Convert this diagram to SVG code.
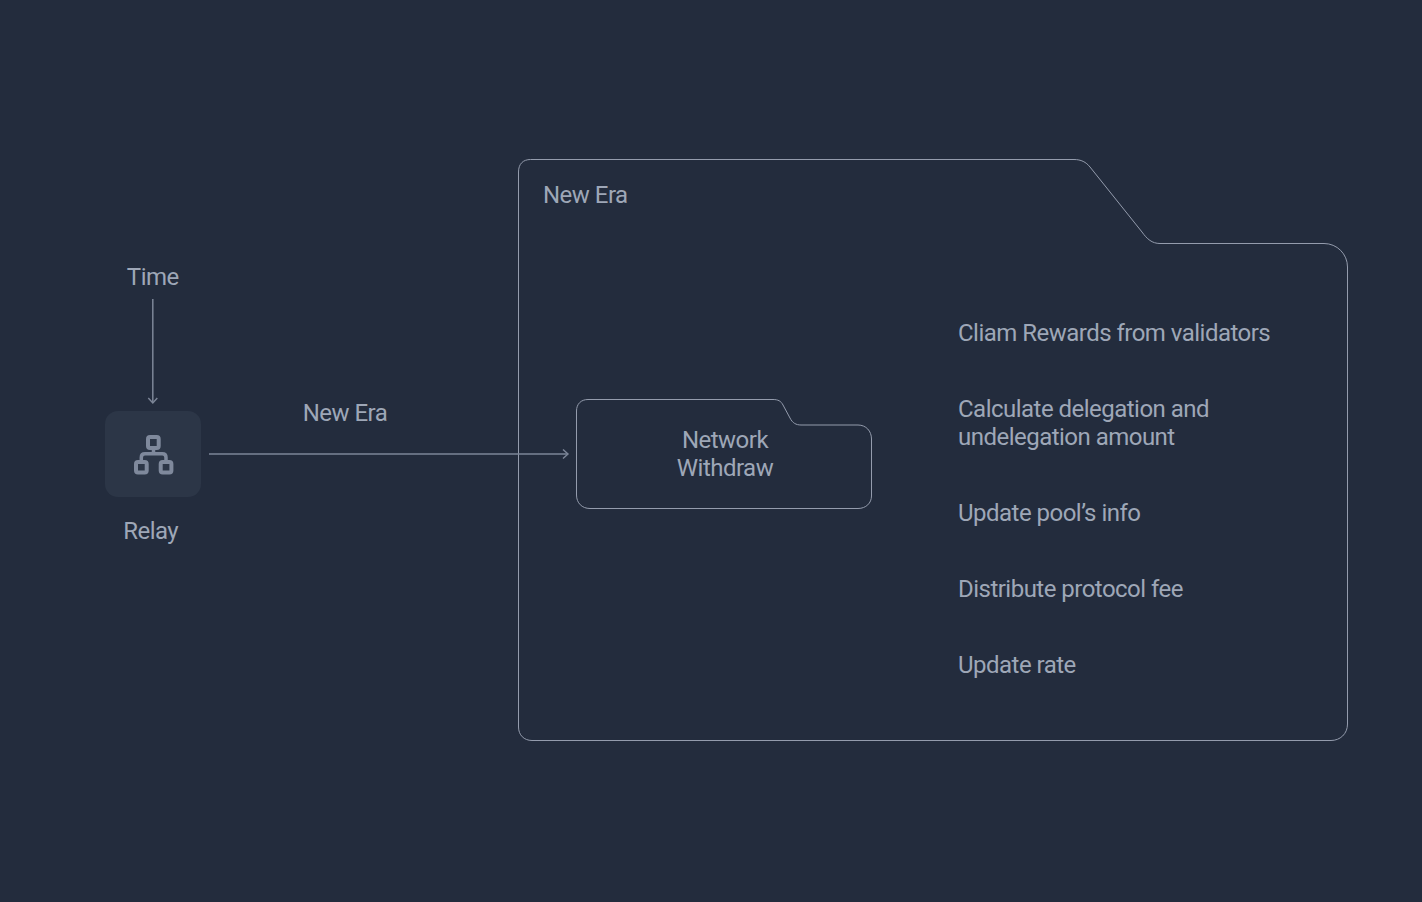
<svg xmlns="http://www.w3.org/2000/svg" width="1422" height="902" viewBox="0 0 1422 902">
<style>
text{font-family:Roboto,"Liberation Sans",sans-serif;font-size:24px;fill:#9ea7b7;letter-spacing:-0.52px}
.c{text-anchor:middle}
.f{fill:none;stroke:#949cad;stroke-width:1}
.w{fill:none;stroke:#7d8698;stroke-width:1.5}
</style>
<defs><marker id="a" markerWidth="12" markerHeight="12" refX="8" refY="5" orient="auto" markerUnits="userSpaceOnUse"><path d="M3 0.5L8 5L3 9.500" fill="none" stroke="#7d8698" stroke-width="1.4"/></marker></defs>
<rect width="1422" height="902" fill="#232c3d"/>
<g id="folder-new-era">
<path class="f" d="M530.500 159.500H1074C1081 159.500 1086 162 1090 167L1142 232C1147 239 1152 243.500 1160 243.500H1324C1337 243.500 1347.500 254 1347.500 267V724C1347.500 734 1340 740.500 1331 740.500H532C524 740.500 518.500 735 518.500 727V172C518.500 164 523 159.500 530.500 159.500Z"/>
<text x="543" y="203">New Era</text>
</g>
<g id="folder-network-withdraw">
<path class="f" d="M588 399.500H773C778 399.500 781 401 783 405L790 418C792.500 423 796 425 801 425H858C866 425 871.500 431 871.500 439V496C871.500 503 866 508.500 858 508.500H590C582 508.500 576.500 503 576.500 495V411C576.500 404 581 399.500 588 399.500Z"/>
<text class="c" x="725" y="448">Network</text>
<text class="c" x="725" y="476">Withdraw</text>
</g>
<g id="relay">
<rect x="105" y="411" width="96" height="86" rx="13" fill="#2c3647"/>
<g fill="none" stroke="#7f899c" stroke-width="4">
<rect x="148" y="437" width="10.700" height="11" rx="2"/>
<rect x="136" y="462" width="10.700" height="10.500" rx="2"/>
<rect x="160.700" y="462" width="10.700" height="10.500" rx="2"/>
</g>
<path d="M153.500 449V454M141.300 461V457.500Q141.300 453.800 145 453.800H162.300Q166 453.800 166 457.500V461" fill="none" stroke="#7f899c" stroke-width="3.500"/>
<text class="c" x="150.700" y="539">Relay</text>
</g>
<g id="label-time"><text class="c" x="152.800" y="285">Time</text></g>
<g id="label-new-era"><text class="c" x="345" y="421">New Era</text></g>
<g id="steps">
<text x="958" y="341">Cliam Rewards from validators</text>
<text x="958" y="417">Calculate delegation and</text>
<text x="958" y="445">undelegation amount</text>
<text x="958" y="521">Update pool’s info</text>
<text x="958" y="597">Distribute protocol fee</text>
<text x="958" y="673">Update rate</text>
</g>
<g id="connectors">
<path class="w" d="M152.800 299V403" marker-end="url(#a)"/>
<path class="w" d="M209 454H568" marker-end="url(#a)"/>
</g>
</svg>
